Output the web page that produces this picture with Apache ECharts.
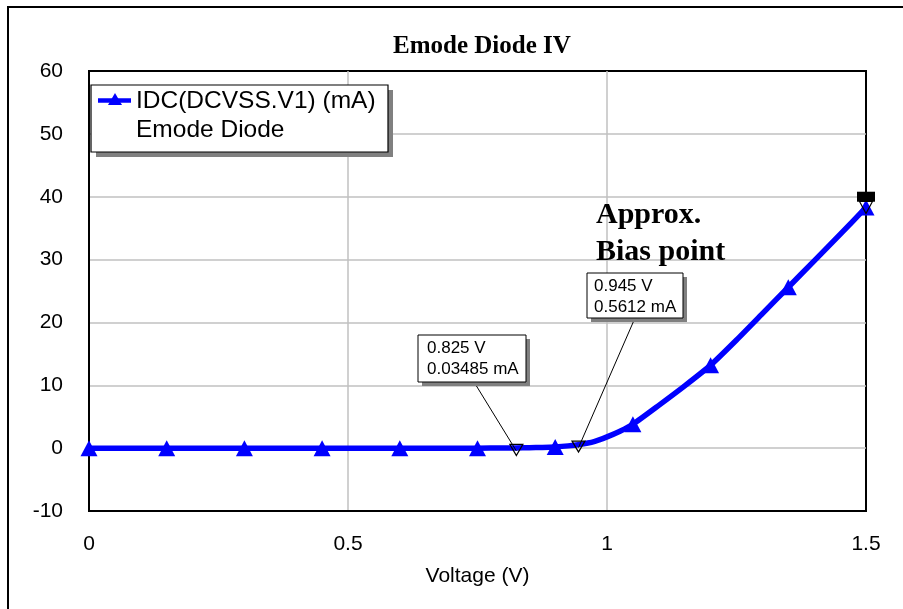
<!DOCTYPE html>
<html><head><meta charset="utf-8">
<script src="https://cdn.jsdelivr.net/npm/echarts@6/dist/echarts.min.js"></script>
<style>html,body{margin:0;padding:0;background:#fff}#c{width:903px;height:609px}</style>
</head><body><div id="c"></div>
<script>
// ---- data ----
const chartTitle = 'Emode Diode IV';
const seriesName = 'IDC(DCVSS.V1) (mA)';
const seriesSub = 'Emode Diode';
const xAxisName = 'Voltage (V)';
const curveV = [0, 0.15, 0.3, 0.45, 0.6, 0.75, 0.8, 0.825, 0.85, 0.875, 0.9, 0.925, 0.945, 0.975, 1.0, 1.025, 1.05, 1.1, 1.15, 1.2, 1.25, 1.3, 1.35, 1.4, 1.45, 1.5];
const curveI = [0, 0, 0, 0, 0, 0, 0.02, 0.035, 0.06, 0.11, 0.2, 0.36, 0.56, 1.05, 1.8, 2.7, 3.8, 6.8, 9.9, 13.2, 17.2, 21.4, 25.6, 29.8, 34.0, 38.3];
const markerV = [0, 0.15, 0.3, 0.45, 0.6, 0.75, 0.9, 1.05, 1.2, 1.35, 1.5];
const markerI = [0, 0, 0, 0, 0, 0, 0.2, 3.8, 13.2, 25.6, 38.3];
const probeV = [0.825, 0.945];
const probeI = [0.03485, 0.5612];
const probeLabels = ['0.825 V\n0.03485 mA', '0.945 V\n0.5612 mA'];
const endProbeV = 1.5, endProbeI = 38.3;
const endFlagV = 1.5, endFlagI = 40;
const noteText = 'Approx.\nBias point';
const yTicks = {min: -10, max: 60, interval: 10};
const xTicks = {min: 0, max: 1.5, interval: 0.5};

// ---- chart ----
const chart = echarts.init(document.getElementById('c'), null, {renderer: 'canvas'});
const sans = 'Liberation Sans, Arial, sans-serif';
const serif = 'Liberation Serif, Times New Roman, serif';
const BLUE = '#0000ff';

chart.setOption({
  animation: false,
  backgroundColor: '#fff',
  title: {
    text: chartTitle, left: 388, top: 29,
    textStyle: {fontFamily: serif, fontWeight: 'bold', fontSize: 25, color: '#000'}
  },
  grid: {left: 89, top: 71, right: 37, bottom: 98, show: true, borderColor: '#000', borderWidth: 2, backgroundColor: 'transparent'},
  xAxis: {
    type: 'value', min: xTicks.min, max: xTicks.max, interval: xTicks.interval,
    name: xAxisName, nameLocation: 'middle', nameGap: 55,
    nameTextStyle: {fontFamily: sans, fontSize: 21, color: '#000'},
    axisLine: {show: true, onZero: false, lineStyle: {color: '#000', width: 2}},
    axisTick: {show: false},
    axisLabel: {fontFamily: sans, fontSize: 21, color: '#000', margin: 23},
    splitLine: {show: true, showMinLine: false, showMaxLine: false, lineStyle: {color: '#c0c0c0', width: 1.5}}
  },
  yAxis: {
    type: 'value', min: yTicks.min, max: yTicks.max, interval: yTicks.interval,
    axisLine: {show: true, onZero: false, lineStyle: {color: '#000', width: 2}},
    axisTick: {show: false},
    axisLabel: {fontFamily: sans, fontSize: 21, color: '#000', margin: 26},
    splitLine: {show: true, showMinLine: false, showMaxLine: false, lineStyle: {color: '#c0c0c0', width: 1.5}}
  },
  series: [
    {
      name: seriesName, type: 'line', smooth: 0.2,
      data: curveV.map((v, i) => [v, curveI[i]]),
      showSymbol: false, symbol: 'none',
      lineStyle: {color: BLUE, width: 5.5, join: 'round', cap: 'round'},
      itemStyle: {color: BLUE},
      z: 3,
      markPoint: {
        silent: true,
        data: probeV.map((v, i) => ({
          coord: [v, probeI[i]], symbol: 'triangle', symbolRotate: 180, symbolSize: [13, 11], symbolOffset: [0, 2],
          itemStyle: {color: 'rgba(0,0,0,0)', borderColor: '#000', borderWidth: 1.2}, label: {show: false}
        })).concat([
          {coord: [endFlagV, endFlagI], symbol: 'rect', symbolSize: [18, 10], itemStyle: {color: '#000'}, label: {show: false}},
          {coord: [endProbeV, endProbeI], symbol: 'triangle', symbolRotate: 180, symbolSize: [13, 12], symbolOffset: [0, 0],
           itemStyle: {color: 'rgba(0,0,0,0)', borderColor: '#000', borderWidth: 1.2}, label: {show: false}}
        ])
      }
    },
    {
      name: seriesName + ' markers', type: 'scatter',
      data: markerV.map((v, i) => [v, markerI[i]]),
      symbol: 'triangle', symbolSize: [17, 16],
      itemStyle: {color: BLUE, opacity: 1}, z: 4, silent: true
    }
  ]
});

// ---- annotations placed from the library's own scales ----
const px = (v, i) => chart.convertToPixel({gridIndex: 0}, [v, i]);
const graphics = [];
// outer frame
graphics.push({type: 'rect', shape: {x: 8, y: 7, width: 1000, height: 1000}, style: {fill: 'none', stroke: '#000', lineWidth: 2}, z: 0, silent: true});

// legend box
const lg = {x: 91, y: 85, w: 297, h: 67};
graphics.push({type: 'rect', shape: {x: lg.x + 5, y: lg.y + 5, width: lg.w, height: lg.h}, style: {fill: '#808080'}, z: 20});
graphics.push({type: 'rect', shape: {x: lg.x, y: lg.y, width: lg.w, height: lg.h}, style: {fill: '#fff', stroke: '#000', lineWidth: 1.2}, z: 21});
graphics.push({type: 'line', shape: {x1: 98, y1: 100.5, x2: 131, y2: 100.5}, style: {stroke: BLUE, lineWidth: 4.5}, z: 22});
graphics.push({type: 'polygon', shape: {points: [[115, 93], [108, 105], [122, 105]]}, style: {fill: BLUE}, z: 22});
graphics.push({type: 'text', x: 136, y: 101.5, style: {text: seriesName, font: '24.5px ' + sans, fill: '#000', verticalAlign: 'middle'}, z: 22});
graphics.push({type: 'text', x: 136, y: 130, style: {text: seriesSub, font: '24.5px ' + sans, fill: '#000', verticalAlign: 'middle'}, z: 22});

// probe boxes
const boxes = [
  {x: 418, y: 335, w: 108, h: 47, tx: 427, ty: 358.5, ax: 474, ay: 382},
  {x: 587, y: 273, w: 96, h: 45, tx: 594, ty: 297, ax: 635, ay: 318}
];
boxes.forEach((b, i) => {
  const p = px(probeV[i], probeI[i]);
  graphics.push({type: 'line', shape: {x1: b.ax, y1: b.ay, x2: p[0], y2: p[1] + 3}, style: {stroke: '#000', lineWidth: 1}, z: 10});
  graphics.push({type: 'rect', shape: {x: b.x + 4, y: b.y + 4, width: b.w, height: b.h}, style: {fill: '#808080'}, z: 11});
  graphics.push({type: 'rect', shape: {x: b.x, y: b.y, width: b.w, height: b.h}, style: {fill: '#fff', stroke: '#000', lineWidth: 1}, z: 12});
  graphics.push({type: 'text', x: b.tx, y: b.ty, style: {text: probeLabels[i], font: '17px ' + sans, lineHeight: 21, fill: '#000', verticalAlign: 'middle'}, z: 13});
});

// note
graphics.push({type: 'text', x: 596, y: 233.5, style: {text: noteText, font: 'bold 30px ' + serif, lineHeight: 37, fill: '#000', verticalAlign: 'middle'}, z: 13});

chart.setOption({graphic: graphics});
</script>
</body></html>
